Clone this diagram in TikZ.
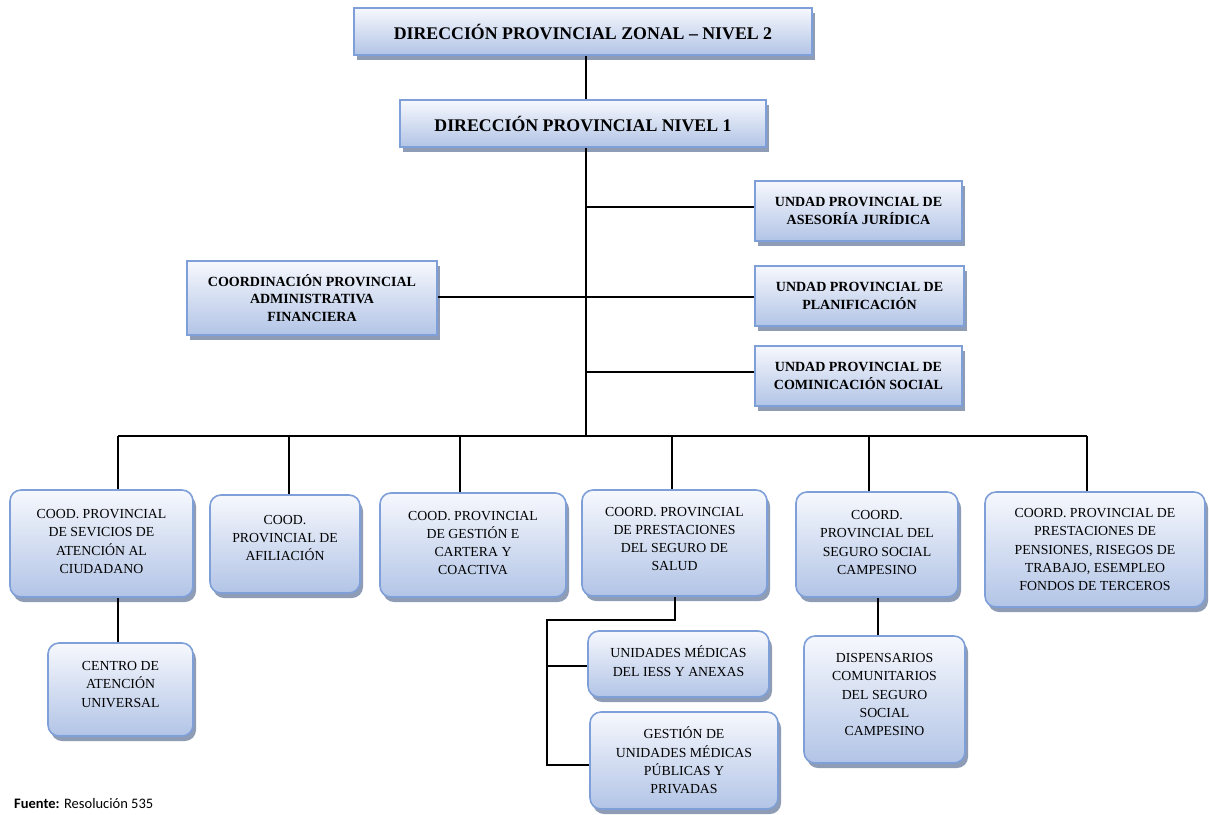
\documentclass[tikz,border=0pt]{standalone}
\usepackage{fontspec}
\setmainfont{Liberation Serif}
\newfontfamily\srcfont{Carlito}
\usetikzlibrary{shadows}
\definecolor{boxtop}{HTML}{F6F8FD}
\definecolor{boxbot}{HTML}{B2C4E6}
\definecolor{boxline}{HTML}{7F9FD8}
\definecolor{shadowc}{HTML}{8E9CB6}
\tikzset{
  every picture/.style={x=1pt,y=-1pt},
  sqbox/.style={draw=boxline, line width=1.6pt, top color=boxtop, bottom color=boxbot,
    drop shadow={shadow xshift=3pt, shadow yshift=-5pt, fill=shadowc, opacity=1}},
  rdbox/.style={sqbox, rounded corners=11pt},
  bigtxt/.style={font=\fontsize{17.8}{22}\selectfont\bfseries, align=center},
  boldtxt/.style={font=\fontsize{14}{17.5}\selectfont\bfseries, align=center},
  regtxt/.style={font=\fontsize{13.8}{18.3}\selectfont, align=center},
  conn/.style={line width=1.7pt, black},
}
% #1 style, #2 name, #3 x1, #4 y1, #5 x2, #6 y2, #7 text style, #8 text shift, #9 text
\newcommand\orgbox[9]{%
  \node[#1, minimum width={#5-#3}, minimum height={#6-#4}, inner sep=0pt] (#2) at ({(#3+#5)/2},{(#4+#6)/2}) {};
  \node[#7] (#2t) at ([yshift=#8]#2.center) {#9};
}
\begin{document}
\begin{tikzpicture}
\fill[white] (0,0) rectangle (1209,814);
\useasboundingbox (0,0) rectangle (1209,814);

% upper hierarchy
\orgbox{sqbox}{top}{354}{8}{812}{55}{bigtxt}{0pt}{DIRECCIÓN PROVINCIAL ZONAL – NIVEL 2}
\orgbox{sqbox}{lvl}{400}{100}{766}{147}{bigtxt}{0pt}{DIRECCIÓN PROVINCIAL NIVEL 1}
\orgbox{sqbox}{ases}{755}{181}{962}{241}{boldtxt}{0pt}{UNDAD PROVINCIAL DE\\ASESORÍA JURÍDICA}
\orgbox{sqbox}{admin}{187}{261}{437}{335}{boldtxt}{0pt}{COORDINACIÓN PROVINCIAL\\ADMINISTRATIVA\\FINANCIERA}
\orgbox{sqbox}{plan}{755}{266}{964}{326}{boldtxt}{0pt}{UNDAD PROVINCIAL DE\\PLANIFICACIÓN}
\orgbox{sqbox}{comu}{755}{346}{962}{406}{boldtxt}{0pt}{UNDAD PROVINCIAL DE\\COMINICACIÓN SOCIAL}

% bottom level
\orgbox{rdbox}{b1}{10}{490}{193}{597}{regtxt}{2pt}{COOD. PROVINCIAL\\DE SEVICIOS DE\\ATENCIÓN AL\\CIUDADANO}
\orgbox{rdbox}{b2}{210}{495}{360}{593}{regtxt}{6pt}{COOD.\\PROVINCIAL DE\\AFILIACIÓN}
\orgbox{rdbox}{b3}{380}{493}{566}{597}{regtxt}{2pt}{COOD. PROVINCIAL\\DE GESTIÓN E\\CARTERA Y\\COACTIVA}
\orgbox{rdbox}{b4}{582}{490}{767}{596}{regtxt}{4pt}{COORD. PROVINCIAL\\DE PRESTACIONES\\DEL SEGURO DE\\SALUD}
\orgbox{rdbox}{b5}{796}{492}{958}{597}{regtxt}{2pt}{COORD.\\PROVINCIAL DEL\\SEGURO SOCIAL\\CAMPESINO}
\orgbox{rdbox}{b6}{985}{492}{1205}{607}{regtxt}{0pt}{COORD. PROVINCIAL DE\\PRESTACIONES DE\\PENSIONES, RISEGOS DE\\TRABAJO, ESEMPLEO\\FONDOS DE TERCEROS}

% sub-units
\orgbox{rdbox}{cau}{48}{643}{193}{736}{regtxt}{5pt}{CENTRO DE\\ATENCIÓN\\UNIVERSAL}
\orgbox{rdbox}{umi}{588}{631}{769}{697}{regtxt}{3pt}{UNIDADES MÉDICAS\\DEL IESS Y ANEXAS}
\orgbox{rdbox}{gum}{590}{712}{778}{809}{regtxt}{0pt}{GESTIÓN DE\\UNIDADES MÉDICAS\\PÚBLICAS Y\\PRIVADAS}
\orgbox{rdbox}{dis}{804}{636}{965}{763}{regtxt}{5pt}{DISPENSARIOS\\COMUNITARIOS\\DEL SEGURO\\SOCIAL\\CAMPESINO}

% connectors
\coordinate (t1) at (586,207);
\coordinate (t2) at (586,297);
\coordinate (t3) at (586,372);
\coordinate (bus) at (586,436);
\draw[conn] (top.south -| bus) -- (lvl.north -| bus);
\draw[conn] (lvl.south -| bus) -- (bus);
\draw[conn] (t1) -- (t1 -| ases.west);
\draw[conn] (t2 -| admin.east) -- (t2 -| plan.west);
\draw[conn] (t3) -- (t3 -| comu.west);

\coordinate (d1) at (118,436);
\coordinate (d2) at (289,436);
\coordinate (d3) at (460,436);
\coordinate (d4) at (672,436);
\coordinate (d5) at (869,436);
\coordinate (d6) at (1087,436);
\draw[conn] (d1) -- (d6);
\foreach \i in {1,...,6} {\draw[conn] (d\i) -- (d\i |- b\i.north);}

\coordinate (c1) at (118,597);
\draw[conn] (c1 |- b1.south) -- (c1 |- cau.north);

\coordinate (s1) at (675,620);
\coordinate (s2) at (547,620);
\coordinate (s3) at (547,666);
\coordinate (s4) at (547,765);
\draw[conn] (s1 |- b4.south) -- (s1) -- (s2) -- (s4) -- (s4 -| gum.west);
\draw[conn] (s3) -- (s3 -| umi.west);

\coordinate (c5) at (878,597);
\draw[conn] (c5 |- b5.south) -- (c5 |- dis.north);

% source
\node[anchor=base west, inner sep=0pt, font=\srcfont\fontsize{14.5}{16}\selectfont] (src) at (14,808) {\textbf{Fuente:} Resolución 535};
\end{tikzpicture}
\end{document}
